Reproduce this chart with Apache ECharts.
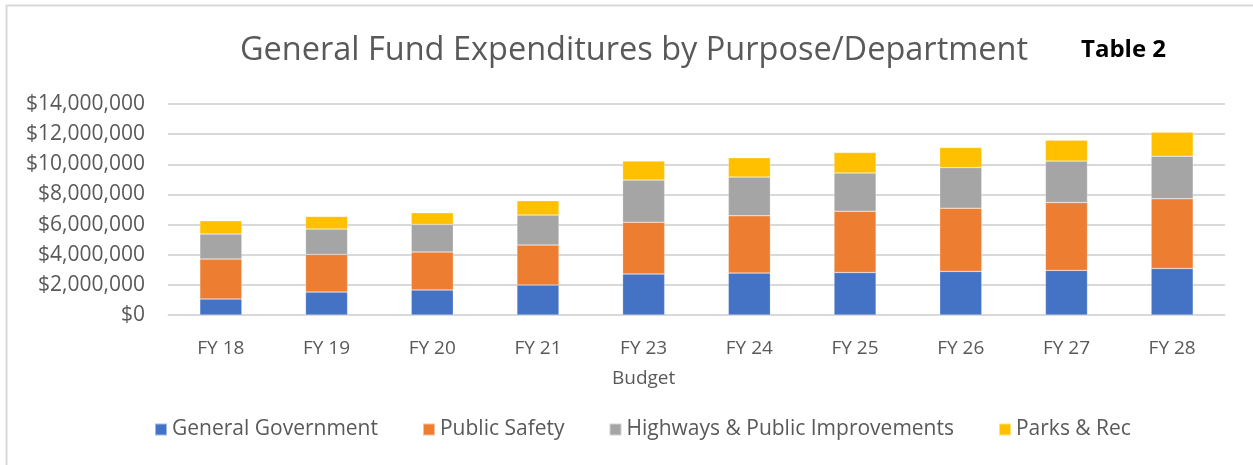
<!DOCTYPE html>
<html>
<head>
<meta charset="utf-8">
<script src="https://cdn.jsdelivr.net/npm/echarts@6/dist/echarts.min.js"></script>
<style>
  html, body { margin: 0; padding: 0; background: #fff; }
  #chart { width: 1253px; height: 465px; }
</style>
</head>
<body>
<div id="chart"></div>
<script>
// values (dollars)
const categories = ['FY 18', 'FY 19', 'FY 20', 'FY 21', 'FY 23\nBudget', 'FY 24', 'FY 25', 'FY 26', 'FY 27', 'FY 28']
const generalGovernment = [1060000, 1520000, 1660000, 1990000, 2720000, 2780000, 2820000, 2890000, 2960000, 3090000]
const publicSafety = [2650000, 2500000, 2520000, 2650000, 3440000, 3800000, 4070000, 4200000, 4500000, 4620000]
const highways = [1660000, 1680000, 1830000, 1990000, 2790000, 2570000, 2540000, 2690000, 2750000, 2830000]
const parksRec = [880000, 840000, 770000, 950000, 1260000, 1280000, 1350000, 1330000, 1390000, 1590000]
const seriesNames = ['General Government', 'Public Safety', 'Highways & Public Improvements', 'Parks & Rec']
const colors = ['#4472c4', '#ed7d31', '#a5a5a5', '#ffc000']

const font = '"Open Sans", "Noto Sans", sans-serif'
const myChart = echarts.init(document.getElementById('chart'))

function money(v) {
  return '$' + v.toLocaleString('en-US')
}

function barSeries(name, data) {
  return {
    name: name,
    type: 'bar',
    stack: 'total',
    barWidth: 42,
    data: data,
    itemStyle: { borderColor: 'rgba(255,255,255,0.5)', borderWidth: 0.5 }
  }
}

myChart.setOption({
  animation: false,
  color: colors,
  textStyle: { fontFamily: font },
  graphic: [
    {
      type: 'rect',
      shape: { x: 6.5, y: 5.5, width: 1300, height: 500 },
      style: { fill: 'none', stroke: '#d9d9d9', lineWidth: 2 }
    },
    {
      type: 'text',
      left: 1081, top: 38,
      style: { text: 'Table 2', fontFamily: font, fontSize: 24, fontWeight: 'bold', fill: '#000' }
    }
  ],
  title: {
    text: 'General Fund Expenditures by Purpose/Department',
    left: 629, top: 29,
    textAlign: 'center',
    textStyle: { fontFamily: font, fontSize: 32.5, fontWeight: 'normal', color: '#595959' }
  },
  legend: {
    data: seriesNames,
    bottom: 20,
    left: 149,
    itemWidth: 12, itemHeight: 12,
    itemGap: 44,
    icon: 'rect',
    textStyle: { fontFamily: font, fontSize: 21, color: '#595959' }
  },
  grid: { left: 168, right: 28, top: 104, bottom: 150 },
  xAxis: {
    type: 'category',
    data: categories,
    axisTick: { show: false },
    axisLine: { lineStyle: { color: '#d9d9d9', width: 1 } },
    axisLabel: { fontFamily: font, fontSize: 19, color: '#595959', margin: 19, lineHeight: 30 }
  },
  yAxis: {
    type: 'value',
    min: 0, max: 14000000, interval: 2000000,
    axisLine: { show: false },
    axisTick: { show: false },
    splitLine: { lineStyle: { color: '#d9d9d9', width: 2 } },
    axisLabel: { fontFamily: font, fontSize: 21, color: '#595959', margin: 23, formatter: money }
  },
  series: [
    barSeries(seriesNames[0], generalGovernment),
    barSeries(seriesNames[1], publicSafety),
    barSeries(seriesNames[2], highways),
    barSeries(seriesNames[3], parksRec)
  ]
})
</script>
</body>
</html>
